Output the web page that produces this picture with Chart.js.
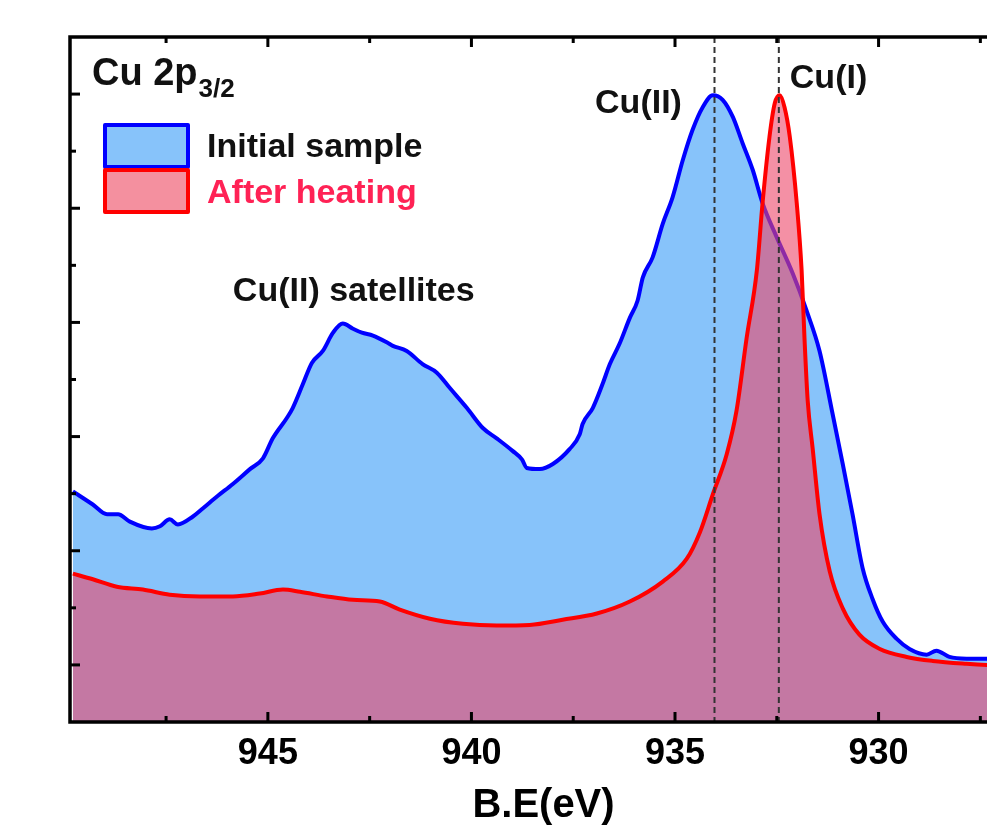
<!DOCTYPE html>
<html>
<head>
<meta charset="utf-8">
<script src="https://cdn.jsdelivr.net/npm/chart.js@4.4.1/dist/chart.umd.min.js"></script>
<style>
  html, body { margin: 0; padding: 0; background: #fff; overflow: hidden; }
  #wrap { position: relative; width: 1020px; height: 837px; }
</style>
</head>
<body>
<div id="wrap"><canvas id="xps"></canvas></div>
<script>
// binding energy (eV) and intensity (a.u.)
const initialBE = [949.79, 949.30, 948.95, 948.68, 948.39, 947.85, 947.65, 947.41, 947.21, 946.84,
  946.60, 946.25, 945.86, 945.44, 945.12, 944.88, 944.53, 944.39, 944.14, 943.92,
  943.65, 943.40, 943.16, 942.91, 942.69, 942.42, 942.05, 941.93, 941.59, 941.20,
  940.85, 940.53, 940.11, 939.72, 939.38, 938.99, 938.76, 938.64, 938.32, 938.00,
  937.59, 937.34, 937.27, 937.02, 936.78, 936.60, 936.36, 936.11, 935.92, 935.79,
  935.55, 935.30, 935.06, 934.81, 934.57, 934.32, 934.07, 933.83, 933.58, 933.34,
  933.09, 932.85, 932.50, 932.11, 931.77, 931.45, 931.13, 930.88, 930.64, 930.39,
  930.15, 929.90, 929.56, 929.24, 928.82, 928.58, 928.26, 927.84, 927.35, 926.60];
const initialCounts = [4.04, 3.81, 3.64, 3.64, 3.51, 3.39, 3.43, 3.55, 3.46, 3.60,
  3.74, 3.95, 4.17, 4.43, 4.62, 4.97, 5.33, 5.50, 5.92, 6.29,
  6.50, 6.82, 6.98, 6.89, 6.82, 6.77, 6.64, 6.59, 6.50, 6.27,
  6.12, 5.85, 5.50, 5.15, 4.97, 4.75, 4.60, 4.45, 4.43, 4.52,
  4.78, 5.04, 5.22, 5.50, 5.92, 6.27, 6.63, 7.08, 7.38, 7.79,
  8.14, 8.73, 9.19, 9.84, 10.37, 10.77, 10.98, 10.90, 10.60, 10.14,
  9.67, 9.09, 8.49, 7.86, 7.21, 6.50, 5.40, 4.52, 3.64, 2.69,
  2.16, 1.76, 1.46, 1.28, 1.18, 1.25, 1.14, 1.11, 1.11, 1.10];

const heatedBE = [949.79, 949.30, 948.71, 948.07, 947.41, 946.67, 945.86, 945.20, 944.63, 944.21,
  943.55, 942.91, 942.25, 941.76, 941.02, 940.21, 939.38, 938.57, 937.76, 936.92,
  936.11, 935.30, 934.71, 934.39, 934.07, 933.73, 933.49, 933.24, 932.99, 932.85,
  932.68, 932.55, 932.43, 932.31, 932.18, 932.01, 931.89, 931.82, 931.74, 931.62,
  931.45, 931.20, 930.88, 930.47, 929.97, 929.31, 928.67, 927.84, 927.35, 926.60];
const heatedCounts = [2.60, 2.50, 2.37, 2.32, 2.23, 2.20, 2.20, 2.25, 2.32, 2.28,
  2.20, 2.14, 2.11, 1.97, 1.81, 1.72, 1.69, 1.70, 1.79, 1.90,
  2.11, 2.46, 2.86, 3.32, 3.99, 4.69, 5.45, 6.73, 7.91, 9.09,
  10.25, 10.84, 10.98, 10.77, 10.25, 9.09, 7.91, 6.73, 5.62, 4.80,
  3.64, 2.64, 1.99, 1.53, 1.28, 1.14, 1.07, 1.02, 1.00, 0.99];

const seriesNames = ['Initial sample', 'After heating'];
const peakLines = [934.03, 932.45];   // Cu(II), Cu(I)

const toPoints = (xs, ys) => xs.map((v, i) => ({ x: v, y: ys[i] }));

Chart.defaults.font.family = '"Liberation Sans", Arial, sans-serif';
Chart.defaults.font.weight = 'bold';
Chart.defaults.color = '#000';

const FONT = '"Liberation Sans", Arial, sans-serif';

// frame, inward ticks, reference lines, labels and legend
const decorPlugin = {
  id: 'xpsDecor',
  afterDatasetsDraw(chart) {
    const { ctx, chartArea: a, scales: { x, y } } = chart;
    const ds = chart.data.datasets;
    ctx.save();

    ctx.strokeStyle = '#333';
    ctx.lineWidth = 2;
    ctx.setLineDash([6, 4]);
    peakLines.forEach(v => {
      const px = x.getPixelForValue(v);
      ctx.beginPath();
      ctx.moveTo(px, a.top);
      ctx.lineTo(px, a.bottom);
      ctx.stroke();
    });
    ctx.setLineDash([]);

    ctx.strokeStyle = '#000';
    ctx.lineWidth = 3.5;
    ctx.beginPath();
    ctx.moveTo(a.right + 10, a.top);
    ctx.lineTo(a.left, a.top);
    ctx.lineTo(a.left, a.bottom);
    ctx.lineTo(a.right + 10, a.bottom);
    ctx.stroke();

    ctx.lineWidth = 3;
    x.ticks.forEach(t => {
      const px = x.getPixelForValue(t.value);
      const len = Math.abs(t.value % 5) < 1e-6 ? 10 : 6;
      ctx.beginPath();
      ctx.moveTo(px, a.bottom); ctx.lineTo(px, a.bottom - len);
      ctx.moveTo(px, a.top); ctx.lineTo(px, a.top + len);
      ctx.stroke();
    });
    y.ticks.forEach(t => {
      if (t.value <= y.min || t.value >= y.max) return;
      const py = y.getPixelForValue(t.value);
      const len = t.value % 2 === 1 ? 10 : 6;
      ctx.beginPath();
      ctx.moveTo(a.left, py); ctx.lineTo(a.left + len, py);
      ctx.stroke();
    });

    // peak labels
    ctx.fillStyle = '#111';
    ctx.textBaseline = 'alphabetic';
    ctx.font = 'bold 34px ' + FONT;
    ctx.textAlign = 'right';
    ctx.fillText('Cu(II)', x.getPixelForValue(934.83), y.getPixelForValue(10.67));
    ctx.textAlign = 'left';
    ctx.fillText('Cu(I)', x.getPixelForValue(932.18), y.getPixelForValue(11.11));
    ctx.fillText('Cu(II) satellites', x.getPixelForValue(945.86), y.getPixelForValue(7.38));

    // panel title
    ctx.font = 'bold 38px ' + FONT;
    ctx.fillText('Cu 2p', a.left + 22, a.top + 48);
    const w = ctx.measureText('Cu 2p').width;
    ctx.font = 'bold 26px ' + FONT;
    ctx.fillText('3/2', a.left + 22 + w + 1, a.top + 60);

    // legend
    ctx.lineWidth = 4;
    ctx.lineJoin = 'round';
    ds.forEach((d, i) => {
      const bx = a.left + 35, by = a.top + 88 + i * 45;
      ctx.fillStyle = i === 0 ? d.backgroundColor : '#F4909F';
      ctx.fillRect(bx, by, 83, 42);
      ctx.strokeStyle = d.borderColor;
      ctx.strokeRect(bx, by, 83, 42);
      ctx.font = 'bold 34px ' + FONT;
      ctx.fillStyle = i === 0 ? '#111' : '#FF2255';
      ctx.fillText(d.label, a.left + 137, a.top + 120 + i * 46);
    });
    ctx.restore();
  }
};

new Chart(document.getElementById('xps'), {
  type: 'line',
  data: {
    datasets: [{
      label: seriesNames[0],
      data: toPoints(initialBE, initialCounts),
      borderColor: '#0000FF',
      backgroundColor: '#87C3FA',
      borderWidth: 4,
      fill: 'origin',
      pointRadius: 0,
      cubicInterpolationMode: 'monotone',
      order: 2
    }, {
      label: seriesNames[1],
      data: toPoints(heatedBE, heatedCounts),
      borderColor: '#FF0000',
      backgroundColor: 'rgba(236, 70, 105, 0.6)',
      borderWidth: 4,
      fill: 'origin',
      pointRadius: 0,
      cubicInterpolationMode: 'monotone',
      order: 1
    }]
  },
  options: {
    responsive: true,
    maintainAspectRatio: false,
    animation: false,
    layout: {
      padding: { left: 70, top: 37, right: 3, bottom: 11 }
    },
    plugins: {
      legend: { display: false },
      tooltip: { enabled: false }
    },
    scales: {
      x: {
        type: 'linear',
        reverse: true,
        min: 926.6,
        max: 949.86,
        grid: { display: false, drawTicks: false },
        border: { display: false },
        ticks: {
          stepSize: 2.5,
          includeBounds: false,
          autoSkip: false,
          maxRotation: 0,
          padding: 14,
          font: { size: 36, weight: 'bold', lineHeight: 1 },
          callback: function(value) {
            return (Math.abs(value % 5) < 1e-6 && value < 949) ? value : '';
          }
        },
        title: {
          display: true,
          text: 'B.E(eV)',
          font: { size: 40, weight: 'bold', lineHeight: 1 },
          padding: { top: 0, bottom: 0 }
        }
      },
      y: {
        display: false,
        min: 0,
        max: 12,
        ticks: { stepSize: 1 }
      }
    }
  },
  plugins: [decorPlugin]
});
</script>
</body>
</html>
